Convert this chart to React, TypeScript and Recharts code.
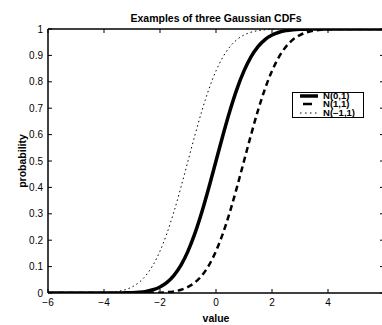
import React from 'react';
import { LineChart, Line, XAxis, YAxis, Legend, Label } from 'recharts';

// x positions, step 0.25 from -6 to 6
const xValues = [
  -6, -5.75, -5.5, -5.25, -5, -4.75, -4.5, -4.25, -4, -3.75, -3.5, -3.25, -3,
  -2.75, -2.5, -2.25, -2, -1.75, -1.5, -1.25, -1, -0.75, -0.5, -0.25, 0,
  0.25, 0.5, 0.75, 1, 1.25, 1.5, 1.75, 2, 2.25, 2.5, 2.75, 3, 3.25, 3.5,
  3.75, 4, 4.25, 4.5, 4.75, 5, 5.25, 5.5, 5.75, 6,
];

const n01 = [
  0, 0, 0, 0, 0, 0, 0, 0, 0, 0.0001, 0.0002, 0.0006, 0.0013, 0.003, 0.0062,
  0.0122, 0.0228, 0.0401, 0.0668, 0.1056, 0.1587, 0.2266, 0.3085, 0.4013, 0.5,
  0.5987, 0.6915, 0.7734, 0.8413, 0.8944, 0.9332, 0.9599, 0.9772, 0.9878,
  0.9938, 0.997, 0.9987, 0.9994, 0.9998, 0.9999, 1, 1, 1, 1, 1, 1, 1, 1, 1,
];

const n11 = [
  0, 0, 0, 0, 0, 0, 0, 0, 0, 0, 0, 0, 0, 0.0001, 0.0002, 0.0006, 0.0013,
  0.003, 0.0062, 0.0122, 0.0228, 0.0401, 0.0668, 0.1056, 0.1587, 0.2266,
  0.3085, 0.4013, 0.5, 0.5987, 0.6915, 0.7734, 0.8413, 0.8944, 0.9332, 0.9599,
  0.9772, 0.9878, 0.9938, 0.997, 0.9987, 0.9994, 0.9998, 0.9999, 1, 1, 1, 1, 1,
];

const nm11 = [
  0, 0, 0, 0, 0, 0.0001, 0.0002, 0.0006, 0.0013, 0.003, 0.0062, 0.0122,
  0.0228, 0.0401, 0.0668, 0.1056, 0.1587, 0.2266, 0.3085, 0.4013, 0.5, 0.5987,
  0.6915, 0.7734, 0.8413, 0.8944, 0.9332, 0.9599, 0.9772, 0.9878, 0.9938,
  0.997, 0.9987, 0.9994, 0.9998, 0.9999, 1, 1, 1, 1, 1, 1, 1, 1, 1, 1, 1, 1, 1,
];

const xTicks = [-6, -4, -2, 0, 2, 4, 6];
const yTicks = [0, 0.1, 0.2, 0.3, 0.4, 0.5, 0.6, 0.7, 0.8, 0.9, 1];

const data = xValues.map((x, i) => ({ x, n01: n01[i], n11: n11[i], nm11: nm11[i] }));

const font = '"Liberation Sans", Arial, Helvetica, sans-serif';

const legendItems = [
  { label: 'N(0,1)', width: 3.5, dash: undefined, x1: 7, x2: 25 },
  { label: 'N(1,1)', width: 2.5, dash: undefined, x1: 10, x2: 19 },
  { label: 'N(\u22121,1)', width: 1, dash: '1.5 3.5', x1: 7, x2: 25 },
];

const LegendBox = () => (
  <div
    style={{
      border: '1px solid #000',
      background: '#fff',
      width: 70,
      height: 24,
      fontFamily: font,
      fontSize: 8.5,
      fontWeight: 'bold',
      color: '#000',
      overflow: 'hidden',
    }}
  >
    <div style={{ marginTop: -1.5 }}>
      {legendItems.map((it) => (
        <div key={it.label} style={{ display: 'flex', alignItems: 'center', height: 8.5, lineHeight: '8.5px' }}>
          <svg width={30} height={8} style={{ display: 'block' }}>
            <line x1={it.x1} y1={4} x2={it.x2} y2={4} stroke="#000" strokeWidth={it.width} strokeDasharray={it.dash} />
          </svg>
          <span style={{ display: 'inline-block', transform: 'scaleX(1.12)', transformOrigin: 'left center' }}>{it.label}</span>
        </div>
      ))}
    </div>
  </div>
);

// the 6 at the far right falls outside the picture
const fmtX = (v: number) => (v === 6 ? '' : v < 0 ? '\u2212' + Math.abs(v) : String(v));
const fmtY = (v: number) => String(Math.round(v * 10) / 10);
const blank = () => '';

export default function App() {
  const tickStyle = { fill: '#000', fontSize: 10, fontFamily: font };
  const axisLine = { stroke: '#000', strokeWidth: 1.5 };
  const labelStyle = { fontFamily: font, fontSize: 10.5, fontWeight: 'bold', fill: '#000' };
  return (
    <div style={{ position: 'absolute', left: 0, top: 0, width: 382, height: 325, overflow: 'hidden', background: '#fff' }}>
      <LineChart width={390} height={325} data={data} margin={{ top: 28, right: 5, bottom: 0, left: 0 }}>
        <XAxis
          dataKey="x"
          type="number"
          domain={[-6, 6]}
          ticks={xTicks}
          tickFormatter={fmtX}
          tick={tickStyle}
          tickSize={-4}
          tickMargin={10}
          height={32}
          axisLine={axisLine}
          tickLine={{ stroke: '#000' }}
          allowDataOverflow
        >
          <Label value="value" position="insideBottom" offset={3} style={labelStyle} />
        </XAxis>
        <XAxis
          xAxisId="top"
          orientation="top"
          dataKey="x"
          type="number"
          domain={[-6, 6]}
          ticks={xTicks}
          tickFormatter={blank}
          tick={tickStyle}
          tickSize={-4}
          height={1}
          axisLine={axisLine}
          tickLine={{ stroke: '#000' }}
          allowDataOverflow
        >
          <Label value="Examples of three Gaussian CDFs" position="top" offset={6} style={labelStyle} />
        </XAxis>
        <YAxis
          type="number"
          domain={[0, 1]}
          ticks={yTicks}
          tickFormatter={fmtY}
          tick={tickStyle}
          tickSize={-4}
          tickMargin={9}
          width={48}
          axisLine={axisLine}
          tickLine={{ stroke: '#000' }}
          allowDataOverflow
        >
          <Label value="probability" angle={-90} position="center" dx={-2} style={{ ...labelStyle, textAnchor: 'middle' }} />
        </YAxis>
        <YAxis
          yAxisId="right"
          orientation="right"
          type="number"
          domain={[0, 1]}
          ticks={yTicks}
          tickFormatter={blank}
          tick={tickStyle}
          tickSize={-4}
          width={1}
          axisLine={axisLine}
          tickLine={{ stroke: '#000' }}
          allowDataOverflow
        />
        <Legend
          layout="vertical"
          align="center"
          verticalAlign="middle"
          wrapperStyle={{ top: 92, left: 292, width: 'auto' }}
          content={() => <LegendBox />}
        />
        <Line dataKey="n01" type="monotone" stroke="#000" strokeWidth={3.5} dot={false} isAnimationActive={false} />
        <Line dataKey="n11" type="monotone" stroke="#000" strokeWidth={2.5} strokeDasharray="6 4" dot={false} isAnimationActive={false} />
        <Line dataKey="nm11" type="monotone" stroke="#000" strokeWidth={1} strokeDasharray="1.5 3" dot={false} isAnimationActive={false} />
      </LineChart>
    </div>
  );
}
